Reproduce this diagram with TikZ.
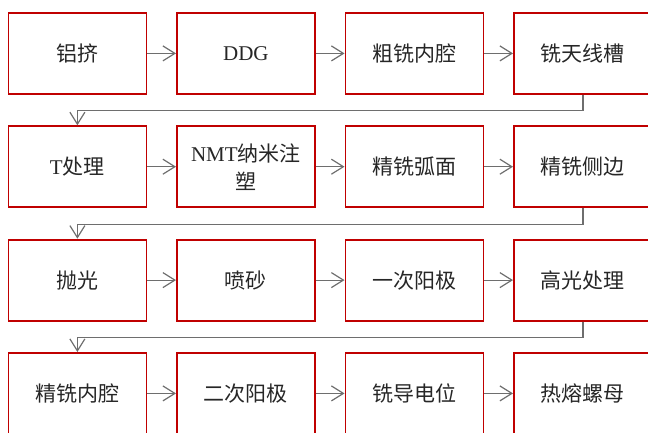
\documentclass[tikz,border=0pt]{standalone}
\usepackage{fontspec}
\setmainfont{Liberation Serif}
\newfontfamily\cjk{Noto Sans CJK SC}
\usetikzlibrary{arrows.meta}
\definecolor{boxred}{HTML}{C00000}
\definecolor{linegray}{HTML}{6E6E6E}
\begin{document}
\begin{tikzpicture}[x=1pt,y=-1pt,
  box/.style={draw=boxred, line width=1.8pt, minimum width=138pt, minimum height=81pt,
    inner sep=0pt, anchor=north west, align=center, font=\fontsize{21}{28}\selectfont\cjk, text=black!85},
  conn/.style={draw=linegray, line width=1.2pt, -{Straight Barb[length=12pt,width=15pt,line width=1.2pt]}}]
\useasboundingbox (0,0) rectangle (648,432);
\node[box] (b11) at (7.5,12) {铝挤};
\node[box] (b12) at (176,12) {\rmfamily DDG};
\node[box] (b13) at (344.5,12) {粗铣内腔};
\node[box] (b14) at (513,12) {铣天线槽};
\node[box] (b21) at (7.5,125.3) {{\rmfamily T}处理};
\node[box] (b22) at (176,125.3) {{\rmfamily NMT}纳米注\\塑};
\node[box] (b23) at (344.5,125.3) {精铣弧面};
\node[box] (b24) at (513,125.3) {精铣侧边};
\node[box] (b31) at (7.5,238.7) {抛光};
\node[box] (b32) at (176,238.7) {喷砂};
\node[box] (b33) at (344.5,238.7) {一次阳极};
\node[box] (b34) at (513,238.7) {高光处理};
\node[box] (b41) at (7.5,352) {精铣内腔};
\node[box] (b42) at (176,352) {二次阳极};
\node[box] (b43) at (344.5,352) {铣导电位};
\node[box] (b44) at (513,352) {热熔螺母};
\foreach \r in {1,2,3,4}{
  \draw[conn] (b\r1) -- (b\r2);
  \draw[conn] (b\r2) -- (b\r3);
  \draw[conn] (b\r3) -- (b\r4);
}
\draw[conn] (b14.south) -- ++(0,16) -| (b21.north);
\draw[conn] (b24.south) -- ++(0,16) -| (b31.north);
\draw[conn] (b34.south) -- ++(0,16) -| (b41.north);
\end{tikzpicture}
\end{document}
